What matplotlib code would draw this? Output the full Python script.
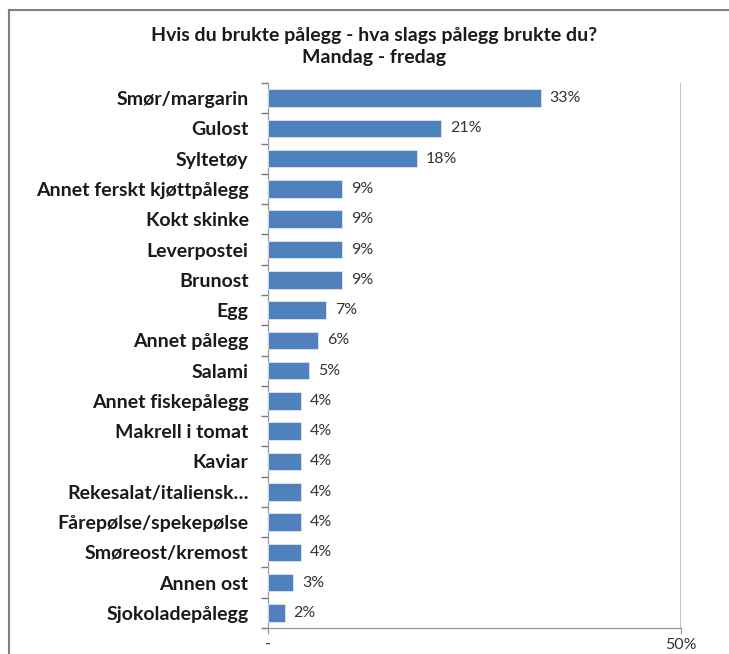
import matplotlib.pyplot as plt
from matplotlib.lines import Line2D
import numpy as np

# Data
categories = ['Smør/margarin', 'Gulost', 'Syltetøy', 'Annet ferskt kjøttpålegg',
              'Kokt skinke', 'Leverpostei', 'Brunost', 'Egg', 'Annet pålegg',
              'Salami', 'Annet fiskepålegg', 'Makrell i tomat', 'Kaviar',
              'Rekesalat/italiensk…', 'Fårepølse/spekepølse', 'Smøreost/kremost',
              'Annen ost', 'Sjokoladepålegg']
values = [33, 21, 18, 9, 9, 9, 9, 7, 6, 5, 4, 4, 4, 4, 4, 4, 3, 2]
x_ticks = [0, 50]
x_ticklabels = ['-', '50%']

plt.rcParams['font.family'] = ['Lato', 'DejaVu Sans']

fig = plt.figure(figsize=(7.29, 6.54), dpi=100)
ax = fig.add_axes([268 / 729, 1 - 628 / 654, (681 - 268) / 729, (628 - 83) / 654])

y = np.arange(len(categories))
ax.barh(y, values, height=0.58, color='#4F81BD', edgecolor='#DCE6F2', linewidth=0.6, zorder=3)
ax.set_ylim(len(categories) - 0.5, -0.5)
ax.set_xlim(0, 50)

# value labels
for yi, v in zip(y, values):
    ax.text(v + 1.1, yi, f'{v}%', va='center', ha='left', fontsize=11.5, color='#333333')

# tick marks on category boundaries (major), labels at category centres (minor)
ax.set_yticks(np.arange(len(categories) + 1) - 0.5)
ax.set_yticklabels([])
ax.tick_params(axis='y', which='major', length=5, width=1.0, color='#777777')

ax.set_yticks(y, minor=True)
ax.set_yticklabels(categories, minor=True, fontsize=14, fontweight='bold', color='#1a1a1a')
ax.tick_params(axis='y', which='minor', length=0, pad=14)

ax.set_xticks(x_ticks)
ax.set_xticklabels(x_ticklabels, fontsize=11.5, color='#333333')
ax.tick_params(axis='x', length=4, width=0.9, color='#999999', pad=3)

for s in ['top', 'right']:
    ax.spines[s].set_visible(False)
for s in ['left', 'bottom']:
    ax.spines[s].set_color('#999999')
    ax.spines[s].set_linewidth(0.9)

# vertical gridline at 50%
ax.axvline(50, color='#BBBBBB', linewidth=1.2, zorder=1)

# Title
fig.text(374 / 729, 1 - 35 / 654, 'Hvis du brukte pålegg - hva slags pålegg brukte du?',
         ha='center', va='center', fontsize=14, fontweight='bold', color='#1a1a1a')
fig.text(374 / 729, 1 - 58 / 654, 'Mandag - fredag',
         ha='center', va='center', fontsize=14, fontweight='bold', color='#1a1a1a')

# chart frame (only left and top visible in crop)
fig.add_artist(Line2D([9 / 729, 9 / 729], [0, 1 - 10 / 654], color='#808080', linewidth=1.5))
fig.add_artist(Line2D([9 / 729, 1], [1 - 10 / 654, 1 - 10 / 654], color='#808080', linewidth=1.5))

plt.savefig('out.png', dpi=100)
